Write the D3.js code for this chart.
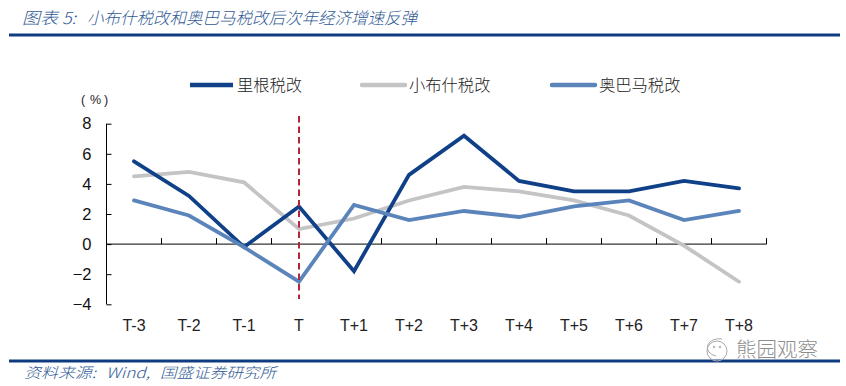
<!DOCTYPE html>
<html><head><meta charset="utf-8">
<script src="https://cdn.jsdelivr.net/npm/d3@7/dist/d3.min.js"></script>
<style>html,body{margin:0;padding:0;background:#fff}svg{display:block}</style></head>
<body><svg id="c" width="846" height="386"></svg>
<script>
const categories=["T-3","T-2","T-1","T","T+1","T+2","T+3","T+4","T+5","T+6","T+7","T+8"];
const reagan=[5.5,3.2,-0.2,2.5,-1.8,4.6,7.2,4.2,3.5,3.5,4.2,3.7];
const bush=[4.5,4.8,4.1,1.0,1.7,2.9,3.8,3.5,2.9,1.9,-0.1,-2.5];
const obama=[2.9,1.9,-0.2,-2.5,2.6,1.6,2.2,1.8,2.5,2.9,1.6,2.2];
const yTicks=[-4,-2,0,2,4,6,8];
const seriesNames=["里根税改","小布什税改","奥巴马税改"];
const seriesColors=["#0f4088","#c4c4c6","#5b84bb"];
const titleLabel="图表 5:";
const titleText="小布什税改和奥巴马税改后次年经济增速反弹";
const sourceParts=["资料来源:","Wind,","国盛证券研究所"];
const watermark="熊园观察";

const svg=d3.select("#c");
const cjk='"Noto Sans CJK SC",sans-serif';
const latin='"Liberation Sans","Noto Sans CJK SC",sans-serif';
const x=d3.scaleBand().domain(categories).range([106.5,766.5]);
const y=d3.scaleLinear().domain([-4,8]).range([304.3,123.7]);
const cx=c=>x(c)+x.bandwidth()/2;
const note=(t,px,py,size,len)=>svg.append("text").attr("x",px).attr("y",py).attr("font-family",cjk)
  .attr("font-style","italic").attr("font-weight",300).attr("font-size",size).attr("fill","#2f5a94")
  .attr("textLength",len).attr("lengthAdjust","spacingAndGlyphs").text(t);

// header and footer
[35,361].forEach(v=>svg.append("rect").attr("x",9).attr("y",v-1.5).attr("width",831).attr("height",3).attr("fill","#0f3c80"));
note(titleLabel,22,24,16.5,54);
note(titleText,87,24,16.5,330);
note(sourceParts[0],24,378,14.5,72);
note(sourceParts[1],106,378,14.5,44);
note(sourceParts[2],160,378,14.5,116);

// axes
const axY=svg.append("g").attr("transform","translate(106.5,0)")
  .call(d3.axisLeft(y).tickValues(yTicks).tickSize(-5).tickPadding(15).tickFormat(d3.format("d")));
const tickVals=d3.range(0,categories.length+1);
const axX=svg.append("g").attr("transform",`translate(0,${y(0)})`);
axX.append("line").attr("x1",106.5).attr("x2",766.5).attr("stroke","#000").attr("stroke-width",1);
axX.selectAll("line.t").data(tickVals).join("line").attr("class","t")
  .attr("x1",i=>106.5+i*x.step()).attr("x2",i=>106.5+i*x.step()).attr("y1",0).attr("y2",-6).attr("stroke","#000");
axY.selectAll("path,line").attr("stroke","#000");
axY.selectAll("text").attr("font-family",latin).attr("font-size",16.5).attr("fill","#111");
axY.select(".domain").attr("d",`M-0,${y(8)}V${y(-4)}`);
svg.append("g").selectAll("text").data(categories).join("text")
  .attr("x",d=>cx(d)).attr("y",331).attr("text-anchor","middle")
  .attr("font-family",latin).attr("font-size",16).attr("fill","#222").text(d=>d);
[["(",81],["%",90],[")",104]].forEach(([t,px])=>svg.append("text").attr("x",px).attr("y",104)
  .attr("font-family",latin).attr("font-size",12.5).attr("fill","#222").text(t));

// series
const line=d3.line().x((d,i)=>cx(categories[i])).y(d=>y(d));
[bush,reagan,obama].forEach((s,i)=>{
  const col=[seriesColors[1],seriesColors[0],seriesColors[2]][i];
  svg.append("path").attr("d",line(s)).attr("fill","none").attr("stroke",col).attr("stroke-width",3.8)
    .attr("stroke-linecap","round").attr("stroke-linejoin","miter");
});
svg.append("line").attr("x1",cx("T")).attr("x2",cx("T")).attr("y1",116).attr("y2",299)
  .attr("stroke","#b3263a").attr("stroke-width",2).attr("stroke-dasharray","6.5 4");

// legend
const legX=[190,362,552];
seriesNames.forEach((n,i)=>{
  svg.append("line").attr("x1",legX[i]).attr("x2",legX[i]+43).attr("y1",85).attr("y2",85)
    .attr("stroke",seriesColors[i]).attr("stroke-width",4.5).attr("stroke-linecap",i?"round":"butt");
  svg.append("text").attr("x",legX[i]+47).attr("y",91).attr("font-family",cjk).attr("font-weight",300)
    .attr("font-size",16.3).attr("fill","#222").text(n);
});

// watermark
const wm=svg.append("g").attr("fill","none").attr("stroke","#a9a9a9").attr("stroke-width",1);
wm.append("path").attr("d","M722 339a8 6 0 1 0 -6 17");
wm.append("circle").attr("cx",717).attr("cy",351).attr("r",10);
wm.append("circle").attr("cx",714).attr("cy",347).attr("r",.8);
wm.append("circle").attr("cx",720).attr("cy",347).attr("r",.8);
svg.append("text").attr("x",736).attr("y",357).attr("font-family",cjk).attr("font-weight",300)
  .attr("font-size",20.5).attr("fill","#8d8d8d").text(watermark);
</script></body></html>
